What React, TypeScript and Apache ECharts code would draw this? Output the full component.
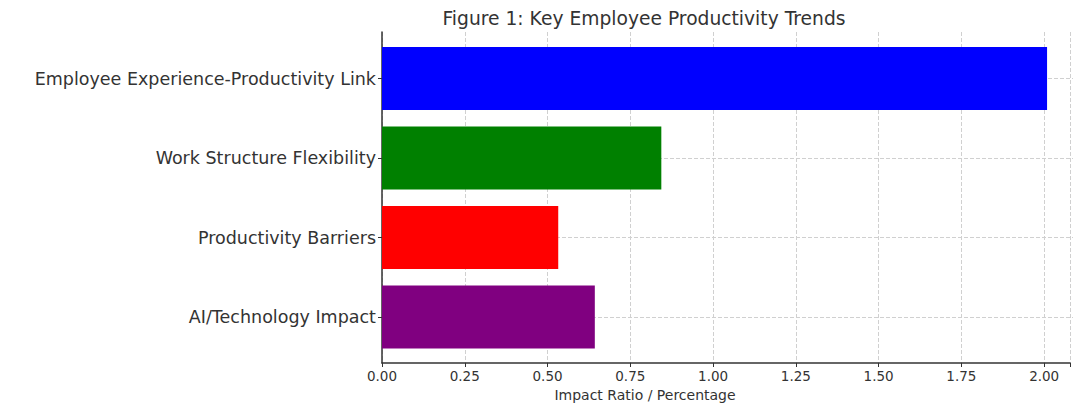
import React, { useEffect, useRef } from "react";
import * as echarts from "echarts";

const categories = [
  "AI/Technology Impact",
  "Productivity Barriers",
  "Work Structure Flexibility",
  "Employee Experience-Productivity Link",
];
const values = [0.64, 0.53, 0.84, 2.0];
const barColors = ["#800080", "#ff0000", "#008000", "#0000ff"];
const xTicks = [0, 0.25, 0.5, 0.75, 1.0, 1.25, 1.5, 1.75, 2.0];

const titleText = "Figure 1: Key Employee Productivity Trends";
const xAxisTitle = "Impact Ratio / Percentage";

const FONT = "DejaVu Sans";
const TEXT = "#333333";
const X_MAX = 2.078;

export default function App() {
  const ref = useRef<HTMLDivElement>(null);
  useEffect(() => {
    if (!ref.current) return;
    const chart = echarts.init(ref.current, undefined, { renderer: "svg" });
    chart.setOption({
      animation: false,
      backgroundColor: "#ffffff",
      title: [
        {
          text: titleText,
          left: 639,
          top: 4,
          textAlign: "center",
          textStyle: { fontFamily: FONT, fontSize: 18.7, fontWeight: "normal", color: TEXT },
        },
        {
          text: xAxisTitle,
          left: 640,
          top: 383,
          textAlign: "center",
          textStyle: { fontFamily: FONT, fontSize: 14, fontWeight: "normal", color: TEXT },
        },
      ],
      grid: [
        { left: 382, right: 0, top: 32, bottom: 40, containLabel: false },
        { left: 382, right: 0, top: 78.5, bottom: 86, containLabel: false },
      ],
      xAxis: [
        {
          type: "value",
          gridIndex: 0,
          min: 0,
          max: X_MAX,
          interval: 0.25,
          axisLine: { show: true, lineStyle: { color: TEXT, width: 1.5 } },
          axisTick: { show: true, length: 4, lineStyle: { color: TEXT } },
          axisLabel: {
            fontFamily: FONT,
            fontSize: 13.5,
            color: TEXT,
            margin: 6,
            formatter: (v: number) =>
              xTicks.some((t) => Math.abs(t - v) < 1e-9) ? v.toFixed(2) : "",
          },
          splitLine: { show: true, lineStyle: { color: "#d0d0d0", type: "dashed", width: 1 } },
        },
        {
          type: "value",
          gridIndex: 1,
          min: 0,
          max: X_MAX,
          show: false,
        },
      ],
      yAxis: [
        {
          type: "value",
          gridIndex: 0,
          min: 0,
          max: 1,
          axisLine: { show: true, lineStyle: { color: TEXT, width: 1.5 } },
          axisTick: { show: false },
          axisLabel: { show: false },
          splitLine: { show: false },
        },
        {
          type: "category",
          gridIndex: 1,
          data: categories,
          boundaryGap: false,
          axisLine: { show: false },
          axisTick: { show: true, length: 4, lineStyle: { color: TEXT } },
          axisLabel: { fontFamily: FONT, fontSize: 17.5, color: TEXT, margin: 6 },
          splitLine: { show: true, lineStyle: { color: "#d0d0d0", type: "dashed", width: 1 } },
        },
      ],
      series: [
        {
          type: "bar",
          xAxisIndex: 1,
          yAxisIndex: 1,
          data: values.map((v, i) => ({ value: v, itemStyle: { color: barColors[i] } })),
          barWidth: 63,
          clip: false,
          z: 1,
        },
      ],
    });
    return () => chart.dispose();
  }, []);
  return (
    <div
      ref={ref}
      style={{ position: "fixed", left: 0, top: 0, width: 1073, height: 403 }}
    />
  );
}
